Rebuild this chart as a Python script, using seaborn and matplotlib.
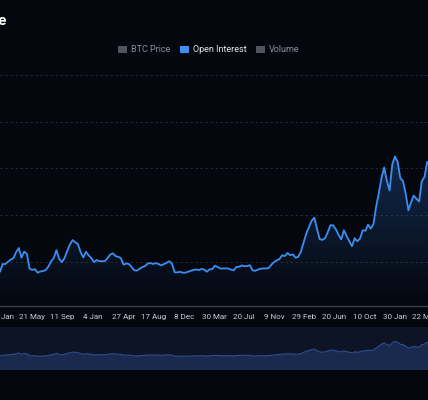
import numpy as np
import pandas as pd
import matplotlib
matplotlib.use('Agg')
import matplotlib.pyplot as plt
import seaborn as sns
from matplotlib.patches import Patch

# Open interest (USD bn), one reading every 10 days
start_date = '2021-01-22'
oi_values = [
    15.9, 19.2, 19.2, 20.2, 21.1, 21.7, 24.3, 26.0, 21.9, 24.5,
    23.6, 17.2, 16.7, 17.0, 15.5, 16.0, 16.2, 16.6, 18.1, 20.3,
    21.7, 25.1, 21.4, 20.0, 21.7, 24.7, 27.5, 29.4, 28.5, 27.7,
    24.3, 22.0, 24.4, 22.9, 21.7, 20.0, 20.9, 20.4, 20.4, 20.4,
    21.7, 23.2, 23.8, 22.6, 22.3, 21.7, 18.9, 19.4, 19.2, 17.9,
    16.5, 16.4, 17.2, 17.9, 18.3, 19.4, 19.6, 19.2, 19.6, 19.2,
    18.6, 19.2, 19.7, 20.4, 19.4, 15.7, 15.6, 15.9, 15.5, 15.5,
    15.9, 16.3, 16.6, 16.9, 16.6, 17.1, 16.8, 15.9, 16.9, 17.0,
    18.5, 17.9, 17.3, 17.3, 17.3, 17.3, 16.8, 16.5, 18.0, 18.0,
    18.6, 18.3, 18.3, 18.7, 16.5, 16.3, 16.8, 17.2, 17.3, 17.3,
    17.5, 18.9, 20.0, 20.8, 21.3, 22.9, 22.6, 23.9, 23.0, 23.3,
    21.9, 22.3, 24.5, 28.3, 32.2, 35.0, 37.7, 39.0, 34.1, 29.8,
    29.5, 30.2, 32.8, 35.8, 35.7, 34.0, 31.7, 29.7, 33.6, 31.1,
    29.0, 26.8, 30.2, 28.9, 30.1, 33.6, 33.4, 36.0, 34.3, 36.3,
    43.7, 49.5, 56.0, 60.4, 54.6, 50.6, 61.7, 65.1, 62.8, 55.8,
    54.6, 49.2, 42.1, 45.6, 48.4, 47.0, 45.9, 54.6, 56.4, 62.8,
    62.1,
]

tick_dates = ['2021-01-29', '2021-05-21', '2021-09-11', '2022-01-04', '2022-04-27',
              '2022-08-17', '2022-12-08', '2023-03-30', '2023-07-20', '2023-11-09',
              '2024-02-29', '2024-06-20', '2024-10-10', '2025-01-30', '2025-05-22']
grid_values = [20, 40, 60, 80, 100]

legend_labels = ['BTC Price', 'Open Interest', 'Volume']
legend_colors = ['#50545d', '#3d8ef5', '#50545d']
legend_text_colors = ['#8b9099', '#e6e8ec', '#8b9099']

title = 'BTC Open Interest & Price'

bg = '#05070e'
line_c = '#3a8ef2'

df = pd.DataFrame({'date': pd.date_range(start_date, periods=len(oi_values), freq='10D'),
                   'oi': oi_values})
x_range = (pd.Timestamp('2021-01-22'), pd.Timestamp('2025-06-03'))

sns.set_theme(style='dark', rc={'axes.facecolor': bg, 'figure.facecolor': bg})
plt.rcParams['font.family'] = ['Roboto', 'DejaVu Sans']

fig = plt.figure(figsize=(4.28, 4.0), dpi=100, facecolor=bg)
ax = fig.add_axes([0, 0.235, 1, 0.58])
nav = fig.add_axes([0, 0.075, 1, 0.1075])

# main series with gradient fill
sns.lineplot(data=df, x='date', y='oi', ax=ax, color=line_c, lw=1.3, zorder=3)
area = ax.fill_between(df['date'], df['oi'], 0, color='none')
grad = np.zeros((256, 1, 4))
grad[:, :, :3] = matplotlib.colors.to_rgb('#2f7de0')
grad[:, 0, 3] = np.linspace(0.45, 0.0, 256)
im = ax.imshow(grad, extent=[0, 1, 0, 1], transform=ax.transAxes, aspect='auto', zorder=1)
im.set_clip_path(area.get_paths()[0], transform=ax.transData)

ax.set_xlim(*x_range)
ax.set_ylim(1.28, 100.3)
ax.set_yticks(grid_values)
ax.yaxis.grid(True, color='#272b35', linestyle=(0, (3, 3)), lw=0.6)
ax.xaxis.grid(False)
ax.tick_params(axis='y', length=0, labelleft=False)
ticks = pd.to_datetime(tick_dates)
ax.set_xticks(ticks)
ax.set_xticklabels([f"{d.day} {d.strftime('%b')}" for d in ticks])
ax.tick_params(axis='x', length=0, pad=6, labelsize=5.8, labelcolor='#c9cdd5')
ax.set_xlabel('')
ax.set_ylabel('')
for side in ['top', 'left', 'right']:
    ax.spines[side].set_visible(False)
ax.spines['bottom'].set_color('#3a3e48')
ax.spines['bottom'].set_linewidth(1)

# navigator
nav.set_facecolor('#0c1426')
nav.fill_between(df['date'], df['oi'], -40, color='#1a2a4f', lw=0)
sns.lineplot(data=df, x='date', y='oi', ax=nav, color='#2d4d8c', lw=0.8)
nav.set_xlim(*x_range)
nav.set_ylim(-31, 114)
nav.set_xticks([])
nav.set_yticks([])
nav.set_xlabel('')
nav.set_ylabel('')
nav.grid(False)
for s in nav.spines.values():
    s.set_visible(False)

# legend and title
handles = [Patch(facecolor=c, edgecolor='none') for c in legend_colors]
leg = fig.legend(handles, legend_labels, loc='center', bbox_to_anchor=(209 / 428, 1 - 50 / 400),
                 ncol=3, frameon=False, fontsize=6.5, handlelength=0.95, handleheight=0.95,
                 handletextpad=0.45, columnspacing=1.1)
for t, c in zip(leg.get_texts(), legend_text_colors):
    t.set_color(c)

fig.text(6 / 428, 1 - 21 / 400, title, ha='right', va='center', fontsize=11,
         fontweight='bold', color='white')

fig.savefig('out.png', dpi=100, facecolor=bg)
